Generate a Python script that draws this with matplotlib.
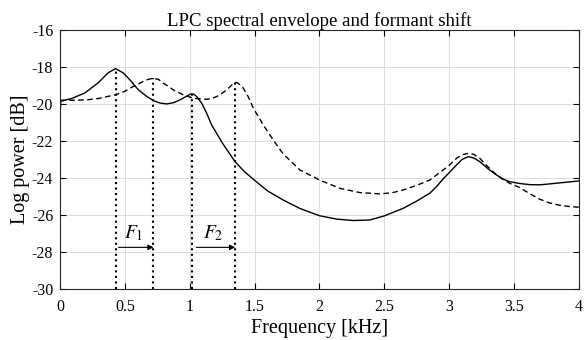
import numpy as np
import matplotlib
matplotlib.use("Agg")
import matplotlib.pyplot as plt

plt.rcParams['font.family'] = ['Liberation Serif', 'DejaVu Serif']
plt.rcParams['mathtext.fontset'] = 'stix'
plt.rcParams['axes.unicode_minus'] = False

# original LPC envelope (solid), kHz / dB
f_orig = [0.0, 0.005, 0.087, 0.19, 0.293, 0.37, 0.427, 0.486, 0.537, 0.601, 0.665, 0.719,
          0.77, 0.822, 0.875, 0.925, 0.97, 1.007, 1.03, 1.053, 1.092, 1.13, 1.169, 1.25,
          1.349, 1.42, 1.497, 1.6, 1.72, 1.85, 2.0, 2.13, 2.26, 2.389, 2.5, 2.646, 2.75,
          2.852, 2.903, 2.954, 3.0, 3.057, 3.1, 3.147, 3.19, 3.237, 3.3, 3.366, 3.42, 3.468,
          3.545, 3.622, 3.7, 3.776, 3.905, 4.0]
p_orig = [-20.45, -19.85, -19.71, -19.41, -18.86, -18.32, -18.09, -18.32, -18.69, -19.22,
          -19.58, -19.82, -19.95, -20.0, -19.93, -19.78, -19.6, -19.46, -19.47, -19.6,
          -19.96, -20.5, -21.14, -22.1, -23.12, -23.65, -24.11, -24.7, -25.19, -25.65,
          -26.04, -26.22, -26.3, -26.27, -26.05, -25.64, -25.25, -24.82, -24.47, -24.05,
          -23.72, -23.3, -23.0, -22.85, -22.92, -23.12, -23.5, -23.84, -24.07, -24.2,
          -24.3, -24.36, -24.37, -24.32, -24.23, -24.16]

# shifted envelope (dashed)
f_shift = [0.0, 0.116, 0.216, 0.3, 0.37, 0.43, 0.498, 0.552, 0.601, 0.65, 0.685, 0.719,
           0.76, 0.796, 0.835, 0.873, 0.95, 1.027, 1.092, 1.13, 1.17, 1.208, 1.25, 1.285,
           1.32, 1.349, 1.362, 1.38, 1.413, 1.45, 1.49, 1.567, 1.644, 1.72, 1.85, 2.0, 2.158,
           2.312, 2.466, 2.56, 2.646, 2.75, 2.852, 2.954, 3.0, 3.057, 3.1, 3.147, 3.19, 3.237,
           3.3, 3.366, 3.42, 3.468, 3.545, 3.622, 3.7, 3.776, 3.85, 3.931, 4.0]
p_shift = [-19.8, -19.8, -19.77, -19.7, -19.59, -19.5, -19.32, -19.1, -18.93, -18.75,
           -18.66, -18.61, -18.68, -18.88, -19.05, -19.24, -19.51, -19.69, -19.73, -19.75,
           -19.7, -19.6, -19.42, -19.24, -19.0, -18.85, -18.84, -18.92, -19.15, -19.6,
           -20.23, -21.14, -21.95, -22.7, -23.57, -24.11, -24.56, -24.79, -24.86, -24.8,
           -24.65, -24.4, -24.11, -23.57, -23.32, -22.94, -22.75, -22.67, -22.72, -22.94,
           -23.4, -23.84, -24.1, -24.29, -24.52, -24.85, -25.15, -25.35, -25.47, -25.55,
           -25.58]

# formant markers
peak_f = [0.43, 0.72, 1.02, 1.35]
peak_p = [-18.09, -18.61, -19.45, -18.84]

fig = plt.figure(figsize=(5.84, 3.4), dpi=100)
ax = fig.add_axes([0.103, 0.15, 0.888, 0.762])

ax.plot(f_orig, p_orig, color='black', lw=1.0)
ax.plot(f_shift, p_shift, color='black', lw=1.0, ls=(0, (4, 2.5)))
ax.vlines(peak_f, -30, peak_p, colors='black', linestyles=':', lw=1.5)

arrow = dict(arrowstyle='-|>', color='black', lw=0.8, mutation_scale=8, shrinkA=0, shrinkB=0)
ax.annotate('', xy=(0.72, -27.75), xytext=(0.45, -27.75), arrowprops=arrow)
ax.annotate('', xy=(1.35, -27.75), xytext=(1.05, -27.75), arrowprops=arrow)
ax.text(0.57, -27.0, '$F_1$', fontsize=14, ha='center', va='center')
ax.text(1.18, -27.0, '$F_2$', fontsize=14, ha='center', va='center')

ax.set_xlim(0, 4)
ax.set_ylim(-30, -16)
ax.set_xticks([0, 0.5, 1, 1.5, 2, 2.5, 3, 3.5, 4])
ax.set_xticklabels(['0', '0.5', '1', '1.5', '2', '2.5', '3', '3.5', '4'])
ax.set_yticks(np.arange(-30, -15, 2))
ax.grid(True, color='#dcdcdc', lw=0.7)
ax.set_axisbelow(True)
ax.tick_params(direction='in', top=True, right=True, labelsize=11.5, length=4, width=0.8)
ax.tick_params(axis='x', pad=7)
ax.tick_params(axis='y', pad=5)
for s in ax.spines.values():
    s.set_color('#262626')
    s.set_linewidth(0.8)

ax.set_title('LPC spectral envelope and formant shift', fontsize=13.5, pad=3)
ax.set_xlabel('Frequency [kHz]', fontsize=14.5, labelpad=3)
ax.set_ylabel('Log power [dB]', fontsize=14.5, labelpad=1)

fig.savefig('out.png', dpi=100)
